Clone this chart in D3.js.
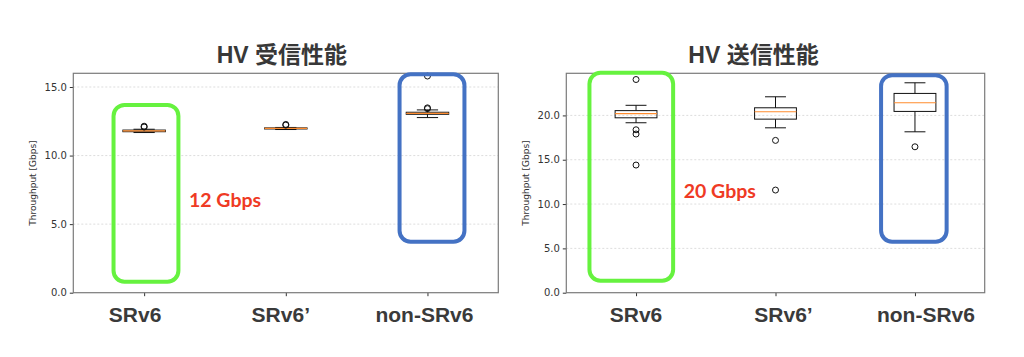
<!DOCTYPE html>
<html><head><meta charset="utf-8">
<script src="https://cdn.jsdelivr.net/npm/d3@7"></script>
<style>body{margin:0;background:#fff}svg{display:block}</style>
</head><body>
<svg id="c" width="1024" height="357"></svg>
<script>
// ---------- data ----------
const categories = ["SRv6", "SRv6’", "non-SRv6"];

const rxTitle = "HV 受信性能";
const rxTicks = [0, 5, 10, 15];
const rxWhiskerLow  = [11.68, 11.90, 12.77];
const rxQ1          = [11.74, 11.94, 13.01];
const rxMedian      = [11.80, 11.98, 13.08];
const rxQ3          = [11.86, 12.02, 13.16];
const rxWhiskerHigh = [11.92, 12.05, 13.33];
const rxOutliers    = [[12.08, 12.14], [12.22, 12.27], [13.42, 13.48, 15.8]];
const rxNote = "12 Gbps";

const txTitle = "HV 送信性能";
const txTicks = [0, 5, 10, 15, 20];
const txWhiskerLow  = [19.17, 18.60, 18.15];
const txQ1          = [19.73, 19.58, 20.45];
const txMedian      = [20.20, 20.41, 21.43];
const txQ3          = [20.54, 20.86, 22.48];
const txWhiskerHigh = [21.14, 22.10, 23.68];
const txOutliers    = [[24.05, 18.38, 17.9, 14.4], [17.18, 11.58], [16.46]];
const txNote = "20 Gbps";

// ---------- layout ----------
const svg = d3.select("#c");
const panels = [
  {title: rxTitle, ticks: rxTicks, yMax: 16.0, lo: rxWhiskerLow, q1: rxQ1, med: rxMedian, q3: rxQ3, hi: rxWhiskerHigh, out: rxOutliers,
   x0: 73.3, x1: 498.3, titleDx: -4, labelDx: [-9, -5, -3], yLabelX: 36,
   note: rxNote, noteX: 189, noteY: 206.5,
   highlights: [
     {cat: 0, dx: 0.013, half: 0.229, top: 13.69, bottom: 0.80, color: "#66f23f"},
     {cat: 2, dx: 0.032, half: 0.229, top: 15.93, bottom: 3.72, color: "#4472c4"}]},
  {title: txTitle, ticks: txTicks, yMax: 24.75, lo: txWhiskerLow, q1: txQ1, med: txMedian, q3: txQ3, hi: txWhiskerHigh, out: txOutliers,
   x0: 566.3, x1: 984.7, titleDx: -22, labelDx: [0, 8, 11], yLabelX: 529,
   note: txNote, noteX: 683.7, noteY: 198.3,
   highlights: [
     {cat: 0, dx: -0.034, half: 0.30, top: 24.8, bottom: 1.35, color: "#66f23f"},
     {cat: 2, dx: -0.008, half: 0.235, top: 24.54, bottom: 5.75, color: "#4472c4"}]}
];
const yTop = 73.3, yBot = 292.7;

panels.forEach(p => {
  const g = svg.append("g");
  const x = d3.scaleLinear().domain([0.5, 3.5]).range([p.x0, p.x1]);
  const y = d3.scaleLinear().domain([0, p.yMax]).range([yBot, yTop]);
  const bw = 0.3, cw = 0.15;

  // grid
  g.append("g").selectAll("line").data(p.ticks.filter(t => t > 0)).join("line")
    .attr("x1", p.x0).attr("x2", p.x1)
    .attr("y1", d => y(d)).attr("y2", d => y(d))
    .attr("stroke", "#d4d4d4").attr("stroke-width", 0.8).attr("stroke-dasharray", "2,2");

  // y axis
  const ya = g.append("g").attr("transform", `translate(${p.x0},0)`)
    .call(d3.axisLeft(y).tickValues(p.ticks).tickFormat(d3.format(".1f")).tickSize(3.5).tickPadding(3));
  ya.select(".domain").remove();
  ya.selectAll("line").attr("stroke", "#333");
  ya.selectAll("text").attr("font-family", "DejaVu Sans").attr("font-size", 10).attr("fill", "#333");

  // x axis ticks
  const xa = g.append("g").attr("transform", `translate(0,${yBot})`)
    .call(d3.axisBottom(x).tickValues([1, 2, 3]).tickSize(3.5).tickFormat(""));
  xa.select(".domain").remove();
  xa.selectAll("line").attr("stroke", "#333");

  // category labels
  g.append("g").selectAll("text").data(categories).join("text")
    .attr("x", (d, i) => x(i + 1) + p.labelDx[i]).attr("y", 322)
    .attr("text-anchor", "middle").attr("font-family", "Liberation Sans, Arial")
    .attr("font-weight", 700).attr("font-size", 21).attr("fill", "#3a3a3a").text(d => d);

  // y label
  g.append("text").attr("transform", `translate(${p.yLabelX},${(yTop + yBot) / 2}) rotate(-90)`)
    .attr("text-anchor", "middle").attr("font-family", "DejaVu Sans").attr("font-size", 9)
    .attr("fill", "#333").text("Throughput [Gbps]");

  // title
  g.append("text").attr("x", (p.x0 + p.x1) / 2 + p.titleDx).attr("y", 63)
    .attr("text-anchor", "middle").attr("font-family", "Liberation Sans, Noto Sans CJK JP")
    .attr("font-weight", 700).attr("font-size", 23).attr("fill", "#383838").text(p.title);

  // boxes
  const idx = [0, 1, 2];
  const bg = g.append("g").attr("stroke", "#111").attr("stroke-width", 1).attr("fill", "none");
  idx.forEach(i => {
    const cx = x(i + 1);
    bg.append("line").attr("x1", cx).attr("x2", cx).attr("y1", y(p.q3[i])).attr("y2", y(p.hi[i]));
    bg.append("line").attr("x1", cx).attr("x2", cx).attr("y1", y(p.q1[i])).attr("y2", y(p.lo[i]));
    bg.append("line").attr("x1", x(i + 1 - cw / 2)).attr("x2", x(i + 1 + cw / 2)).attr("y1", y(p.hi[i])).attr("y2", y(p.hi[i]));
    bg.append("line").attr("x1", x(i + 1 - cw / 2)).attr("x2", x(i + 1 + cw / 2)).attr("y1", y(p.lo[i])).attr("y2", y(p.lo[i]));
    bg.append("rect").attr("x", x(i + 1 - bw / 2)).attr("width", x(i + 1 + bw / 2) - x(i + 1 - bw / 2))
      .attr("y", y(p.q3[i])).attr("height", y(p.q1[i]) - y(p.q3[i]));
    bg.append("line").attr("x1", x(i + 1 - bw / 2)).attr("x2", x(i + 1 + bw / 2))
      .attr("y1", y(p.med[i])).attr("y2", y(p.med[i])).attr("stroke", "#ff8c2e").attr("stroke-width", 1.2);
    bg.selectAll(null).data(p.out[i]).join("circle")
      .attr("cx", cx).attr("cy", d => y(d)).attr("r", 3).attr("fill", "none").attr("stroke", "#111");
  });

  // frame
  g.append("rect").attr("x", p.x0).attr("y", yTop).attr("width", p.x1 - p.x0).attr("height", yBot - yTop)
    .attr("fill", "none").attr("stroke", "#7a7a7a").attr("stroke-width", 1.2);

  // highlight overlays
  p.highlights.forEach(h => {
    const xl = x(h.cat + 1 + h.dx - h.half), xr = x(h.cat + 1 + h.dx + h.half);
    g.append("rect").attr("x", xl).attr("y", y(h.top)).attr("width", xr - xl).attr("height", y(h.bottom) - y(h.top))
      .attr("rx", 11).attr("fill", "none").attr("stroke", h.color).attr("stroke-width", 4);
  });

  // note
  g.append("text").attr("x", p.noteX).attr("y", p.noteY)
    .attr("font-family", "Lato").attr("font-weight", 700).attr("font-size", 19.5)
    .attr("fill", "#ef3a24").text(p.note);
});
</script>
</body></html>
